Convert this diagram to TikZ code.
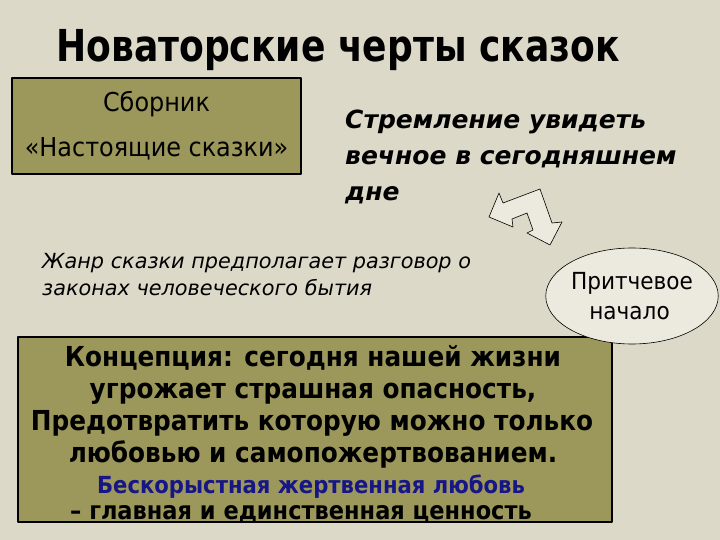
\documentclass[tikz,border=0pt]{standalone}
\usepackage{fontspec}
\setmainfont{DejaVu Sans}
\newfontfamily\tahoma{DejaVu Sans}[FakeStretch=0.82]
\newfontfamily\tahomaN{DejaVu Sans}[FakeStretch=0.92]
\newfontfamily\tahomaB{DejaVu Sans}[FakeStretch=0.9]
\usetikzlibrary{shapes.geometric}
\definecolor{fon}{RGB}{220,217,201}
\definecolor{oliva}{RGB}{156,151,90}
\definecolor{oval}{RGB}{236,234,222}
\definecolor{sinij}{RGB}{22,22,135}
\begin{document}
\begin{tikzpicture}[x=1pt, y=-1pt, line join=round, line cap=round,
  box/.style={draw=black, line width=1.1pt, fill=oliva, inner sep=0pt},
  stroka/.style={anchor=base, inner sep=0pt, font=\tahomaB\bfseries\fontsize{27.5}{30}\selectfont}]
  \fill[fon] (0,0) rectangle (720,540);
  % zagolovok
  \node[anchor=base, inner sep=0pt, font=\tahoma\bfseries\fontsize{44}{48}\selectfont] (title) at (338,62) {Новаторские черты сказок};
  % sbornik
  \node[box, minimum width=289pt, minimum height=96pt, align=center,
    font=\tahomaN\fontsize{26}{45}\selectfont] (sbornik) at (156.5,126) {Сборник\\«Настоящие сказки»};
  \node[anchor=north west, inner sep=0pt, align=left,
    font=\bfseries\itshape\fontsize{25}{36}\selectfont] (stremlenie) at (345,110) {Стремление увидеть\\вечное в сегодняшнем\\дне};
  \node[anchor=north west, inner sep=0pt, align=left,
    font=\itshape\fontsize{20.8}{27}\selectfont] (zhanr) at (42,253) {Жанр сказки предполагает разговор о\\законах человеческого бытия};
  % strelka
  \draw[fill=oval, line width=0.6pt] (489,217) -- (499,193) -- (503,203) -- (540,189) -- (552,223)
    -- (562,222) -- (550,245) -- (527,233) -- (533,230) -- (527,213) -- (512,219) -- (513,227) -- cycle;
  % koncepciya
  \node[box, minimum width=594pt, minimum height=185pt] (koncept) at (315,429.5) {};
  \node[draw=black, fill=oval, line width=0.6pt, shape=ellipse, inner sep=0pt,
    minimum width=172pt, minimum height=96pt, align=center,
    font=\tahomaN\fontsize{23.5}{30}\selectfont] (pritcha) at (632,296) {Притчевое\\начало\hspace*{5pt}};
  \node[stroka] (k1) at (313,366) {Концепция: сегодня нашей жизни};
  \node[stroka] (k2) at (313,398) {угрожает страшная опасность,};
  \node[stroka] (k3) at (312,430) {Предотвратить которую можно только};
  \node[stroka] (k4) at (313,462) {любовью и самопожертвованием.};
  \node[stroka, font=\tahomaB\bfseries\fontsize{23.5}{26}\selectfont, text=sinij] (k5) at (311,493) {Бескорыстная жертвенная любовь};
  \node[stroka, font=\tahomaB\bfseries\fontsize{25}{28}\selectfont] (k6) at (301,519) {– главная и единственная ценность};
\end{tikzpicture}
\end{document}
